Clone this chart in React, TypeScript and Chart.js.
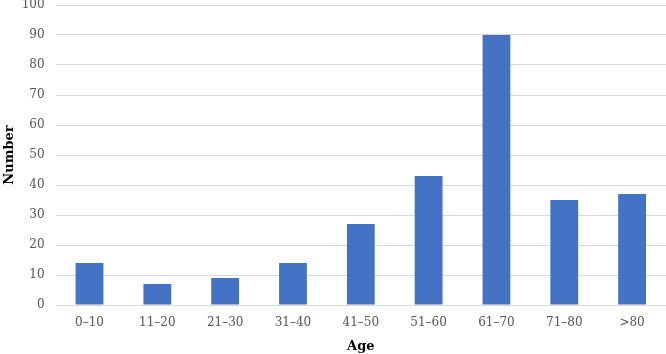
import React, { useEffect, useRef } from "react";
import { Chart, registerables } from "chart.js";

Chart.register(...registerables);

const ageGroups = ["0–10", "11–20", "21–30", "31–40", "41–50", "51–60", "61–70", "71–80", ">80"];
const counts = [14, 7, 9, 14, 27, 43, 90, 35, 37];
const yTicks = { min: 0, max: 100, step: 10 };

const serif = "'DejaVu Serif', serif";

export default function App() {
  const ref = useRef<HTMLCanvasElement | null>(null);

  useEffect(() => {
    document.body.style.margin = "0";
    const canvas = ref.current;
    if (!canvas) return;
    const chart = new Chart(canvas, {
      type: "bar",
      data: {
        labels: ageGroups,
        datasets: [
          {
            label: "Number",
            data: counts,
            backgroundColor: "#4472C4",
            borderWidth: 0,
            categoryPercentage: 1,
            barPercentage: 0.41,
          },
        ],
      },
      options: {
        responsive: false,
        animation: false,
        layout: { padding: { top: 5, right: 0, bottom: 0, left: 0 } },
        plugins: {
          legend: { display: false },
          tooltip: { enabled: false },
        },
        scales: {
          x: {
            grid: { display: false, drawTicks: false },
            border: { display: false },
            ticks: {
              color: "#555555",
              font: { family: serif, size: 12 },
              padding: 11,
              maxRotation: 0,
            },
            title: {
              display: true,
              text: "Age",
              color: "#000",
              font: { family: serif, size: 13, weight: "bold" },
              padding: { top: 4, bottom: 0 },
            },
            afterFit: (scale: any) => {
              scale.height = 49;
              scale.paddingLeft = 0;
              scale.paddingRight = 0;
            },
          },
          y: {
            min: yTicks.min,
            max: yTicks.max,
            ticks: {
              stepSize: yTicks.step,
              color: "#555555",
              font: { family: serif, size: 12 },
              padding: 11,
            },
            grid: { color: "#d9d9d9", lineWidth: 1, drawTicks: false },
            border: { display: false },
            title: {
              display: true,
              text: "Number",
              color: "#000",
              font: { family: serif, size: 13, weight: "bold" },
              padding: { top: 2, bottom: 4 },
            },
            afterFit: (scale: any) => {
              scale.width = 55.6;
              scale.paddingTop = 0;
              scale.paddingBottom = 0;
            },
          },
        },
      },
    });
    return () => chart.destroy();
  }, []);

  return <canvas ref={ref} width={666} height={354} style={{ display: "block" }} />;
}
